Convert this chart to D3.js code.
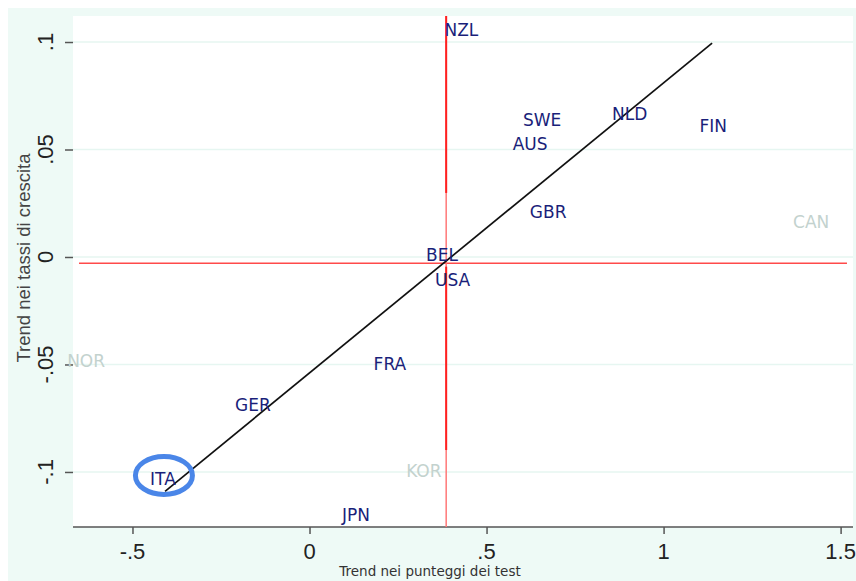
<!DOCTYPE html>
<html>
<head>
<meta charset="utf-8">
<script src="https://cdn.jsdelivr.net/npm/d3@7"></script>
<style>
  html, body { margin: 0; padding: 0; background: #ffffff; }
  svg { display: block; }
</style>
</head>
<body>
<svg id="chart" width="856" height="581"></svg>
<script>
// ---- data ----
const countries = ["NZL", "SWE", "AUS", "NLD", "FIN", "CAN", "GBR", "BEL", "USA", "FRA", "GER", "KOR", "ITA", "JPN", "NOR"];
const testTrend = [0.429, 0.657, 0.623, 0.904, 1.140, 1.417, 0.674, 0.374, 0.404, 0.227, -0.160, 0.323, -0.414, 0.131, -0.631];
const growthTrend = [0.1056, 0.0640, 0.0526, 0.0667, 0.0609, 0.0163, 0.0209, 0.0010, -0.0107, -0.0498, -0.0688, -0.0995, -0.1030, -0.1198, -0.0484];
const fadedCountries = ["CAN", "KOR", "NOR"];
const highlighted = "ITA";

const xTicks = [-0.5, 0, 0.5, 1, 1.5];
const xTickLabels = ["-.5", "0", ".5", "1", "1.5"];
const yTicks = [-0.1, -0.05, 0, 0.05, 0.1];
const yTickLabels = ["-.1", "-.05", "0", ".05", ".1"];

const fitLineX = [-0.408, 1.137];
const fitLineY = [-0.109, 0.0995];
const meanTest = 0.386;
const meanGrowth = -0.0029;
const vLineStrong = [[0.1121, 0.0298], [-0.0045, -0.0898]];
const hLineExtent = [-0.651, 1.518];

const xTitle = "Trend nei punteggi dei test";
const yTitle = "Trend nei tassi di crescita";

// ---- layout ----
const svg = d3.select("#chart");
const plot = { left: 73, right: 853, top: 16, bottom: 527 };

const x = d3.scaleLinear().domain([-0.668, 1.535]).range([plot.left, plot.right]);
const y = d3.scaleLinear().domain([-0.1256, 0.1121]).range([plot.bottom, plot.top]);

// outer background
svg.append("rect").attr("x", 8).attr("y", 8).attr("width", 848).attr("height", 573).attr("fill", "#eefaf6");
// plot area
svg.append("rect").attr("x", plot.left).attr("y", plot.top)
  .attr("width", plot.right - plot.left).attr("height", plot.bottom - plot.top).attr("fill", "#ffffff");

// gridlines
svg.append("g").selectAll("line").data(yTicks).join("line")
  .attr("x1", plot.left).attr("x2", plot.right)
  .attr("y1", d => y(d)).attr("y2", d => y(d))
  .attr("stroke", "#e6f6f1").attr("stroke-width", 1.5);

// y axis (ticks only)
const yAxis = d3.axisLeft(y).tickValues(yTicks).tickSize(8).tickFormat("");
const gy = svg.append("g").attr("transform", `translate(${plot.left},0)`).call(yAxis);
gy.select(".domain").remove();
gy.selectAll(".tick line").attr("stroke", "#555").attr("stroke-width", 1.5);
svg.append("g").selectAll("text").data(yTicks).join("text")
  .attr("transform", d => `translate(53,${y(d)}) rotate(-90)`)
  .attr("text-anchor", "middle")
  .attr("font-family", "Liberation Sans, Arial, sans-serif")
  .attr("font-size", 22).attr("fill", "#222")
  .text((d, i) => yTickLabels[i]);

// x axis
const xAxis = d3.axisBottom(x).tickValues(xTicks).tickSize(7).tickFormat("");
const gx = svg.append("g").attr("transform", `translate(0,${plot.bottom})`).call(xAxis);
gx.select(".domain").attr("d", `M${plot.left},0H${plot.right}`).attr("stroke", "#555").attr("stroke-width", 1.5);
gx.selectAll(".tick line").attr("stroke", "#555").attr("stroke-width", 1.5);
svg.append("g").selectAll("text").data(xTicks).join("text")
  .attr("x", d => x(d)).attr("y", 559)
  .attr("text-anchor", "middle")
  .attr("font-family", "Liberation Sans, Arial, sans-serif")
  .attr("font-size", 22).attr("fill", "#222")
  .text((d, i) => xTickLabels[i]);

// titles
svg.append("text").attr("x", 430).attr("y", 576).attr("text-anchor", "middle")
  .attr("font-family", "DejaVu Sans, sans-serif").attr("font-size", 13.5).attr("fill", "#333")
  .text(xTitle);
svg.append("text").attr("transform", "translate(30,258) rotate(-90)").attr("text-anchor", "middle")
  .attr("font-family", "Liberation Sans, Arial, sans-serif").attr("font-size", 18.5).attr("fill", "#444")
  .text(yTitle);

// reference lines (means)
svg.append("line")
  .attr("x1", x(hLineExtent[0])).attr("x2", x(hLineExtent[1]))
  .attr("y1", y(meanGrowth)).attr("y2", y(meanGrowth))
  .attr("stroke", "#ff4a4a").attr("stroke-width", 1.5);
svg.append("line")
  .attr("x1", x(meanTest)).attr("x2", x(meanTest))
  .attr("y1", plot.top).attr("y2", plot.bottom)
  .attr("stroke", "#ff7878").attr("stroke-width", 1.5);
svg.append("g").selectAll("line").data(vLineStrong).join("line")
  .attr("x1", x(meanTest)).attr("x2", x(meanTest))
  .attr("y1", d => y(d[0])).attr("y2", d => y(d[1]))
  .attr("stroke", "#ff2020").attr("stroke-width", 2);

// fitted line
svg.append("line")
  .attr("x1", x(fitLineX[0])).attr("y1", y(fitLineY[0]))
  .attr("x2", x(fitLineX[1])).attr("y2", y(fitLineY[1]))
  .attr("stroke", "#111").attr("stroke-width", 1.7);

// country labels
const pts = countries.map((c, i) => ({ c, x: testTrend[i], y: growthTrend[i] }));
svg.append("g").selectAll("text").data(pts).join("text")
  .attr("x", d => x(d.x)).attr("y", d => y(d.y))
  .attr("dy", "0.36em")
  .attr("text-anchor", "middle")
  .attr("font-family", "DejaVu Sans, sans-serif").attr("font-size", 17)
  .attr("fill", d => fadedCountries.includes(d.c) ? "#c3d2ce" : "#1a1f7a")
  .text(d => d.c);

// highlight ellipse
const hp = pts.find(d => d.c === highlighted);
svg.append("ellipse")
  .attr("cx", x(hp.x) + 1).attr("cy", y(hp.y) - 3)
  .attr("rx", 28.5).attr("ry", 19)
  .attr("fill", "none").attr("stroke", "#4a86e8").attr("stroke-width", 5);
</script>
</body>
</html>
